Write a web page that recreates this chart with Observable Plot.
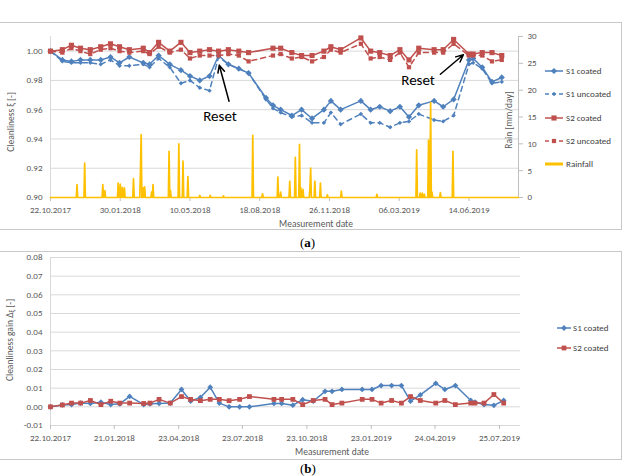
<!DOCTYPE html>
<html><head><meta charset="utf-8">
<script src="https://cdn.jsdelivr.net/npm/d3@7"></script>
<script src="https://cdn.jsdelivr.net/npm/@observablehq/plot@0.6"></script>
<style>
body{margin:0;background:#fff;width:627px;height:476px;position:relative;overflow:hidden;font-family:Lato,sans-serif}
.box{position:absolute;left:-1px;width:623px;border:1px solid #c8c8c8;box-sizing:border-box}
#boxA{top:22px;height:208px}
#boxB{top:251px;height:209px}
.cap{position:absolute;left:300px;font-family:"Liberation Serif",serif;font-size:13px;line-height:15px;color:#000}
#chartA{position:absolute;left:0;top:22px}
#chartB{position:absolute;left:0;top:251px}
</style></head><body>
<div id="boxA" class="box"></div>
<div id="chartA"></div>
<div class="cap" style="top:235px">(<b>a</b>)</div>
<div id="boxB" class="box"></div>
<div id="chartB"></div>
<div class="cap" style="top:461px">(<b>b</b>)</div>
<script>
// ---------- data ----------
const dates = ["22.10.2017","08.11.2017","21.11.2017","04.12.2017","18.12.2017","02.01.2018","16.01.2018","29.01.2018","12.02.2018","04.03.2018","13.03.2018","26.03.2018","11.04.2018","27.04.2018","10.05.2018","24.05.2018","07.06.2018","20.06.2018","04.07.2018","19.07.2018","02.08.2018","27.08.2018","06.09.2018","17.09.2018","03.10.2018","17.10.2018","01.11.2018","18.11.2018","28.11.2018","12.12.2018","10.01.2019","24.01.2019","06.02.2019","21.02.2019","07.03.2019","20.03.2019","03.04.2019","25.04.2019","08.05.2019","23.05.2019","14.06.2019","20.06.2019","03.07.2019","17.07.2019","31.07.2019"];
const s1Coated = [1.000,0.994,0.993,0.994,0.994,0.994,0.996,0.992,0.996,0.992,0.991,0.997,0.991,0.987,0.983,0.980,0.983,0.997,0.991,0.988,0.985,0.968,0.963,0.960,0.956,0.960,0.954,0.960,0.966,0.960,0.966,0.960,0.962,0.959,0.962,0.955,0.963,0.966,0.962,0.967,0.994,0.995,0.989,0.979,0.982];
const s1Uncoated = [1.000,0.993,0.992,0.992,0.992,0.991,0.994,0.990,0.990,0.991,0.989,0.995,0.989,0.978,0.980,0.975,0.973,0.996,0.991,0.988,0.985,0.967,0.961,0.958,0.955,0.956,0.951,0.951,0.958,0.950,0.957,0.951,0.951,0.948,0.951,0.952,0.957,0.953,0.952,0.956,0.991,0.992,0.988,0.978,0.979];
const s2Coated = [1.000,1.001,1.004,1.002,1.001,1.003,1.005,1.003,1.001,1.002,0.999,1.006,1.000,1.006,0.999,1.000,1.001,1.000,1.001,1.000,0.999,null,1.002,1.002,0.999,0.997,0.997,1.000,1.003,1.001,1.009,1.000,0.999,0.997,1.001,0.994,1.002,1.001,1.001,1.008,0.998,0.998,0.999,0.999,0.997];
const s2Uncoated = [1.000,0.999,1.002,1.000,0.998,1.001,1.002,1.000,0.999,1.000,0.998,1.003,0.999,1.001,0.995,0.997,0.997,0.997,0.998,0.997,0.993,null,0.997,0.998,0.995,0.996,0.993,0.996,1.001,0.999,1.005,0.995,0.996,0.994,0.999,0.989,0.999,0.999,0.999,1.005,0.997,0.997,0.997,0.993,0.994];
const rainDates = ["29.11.2017","10.12.2017","05.01.2018","08.01.2018","27.01.2018","30.01.2018","02.02.2018","05.02.2018","18.02.2018","28.02.2018","01.03.2018","04.03.2018","06.03.2018","16.03.2018","18.03.2018","10.04.2018","12.04.2018","24.04.2018","30.04.2018","07.05.2018","24.05.2018","08.06.2018","27.06.2018","08.08.2018","22.08.2018","13.09.2018","17.09.2018","30.09.2018","08.10.2018","14.10.2018","16.10.2018","19.10.2018","29.10.2018","30.10.2018","05.11.2018","13.11.2018","23.11.2018","13.12.2018","02.02.2019","31.03.2019","05.04.2019","08.04.2019","11.04.2019","17.04.2019","20.04.2019","22.04.2019","04.05.2019","22.05.2019"];
const rainMm = [2.4,6.4,2.4,1.3,2.7,2.5,1.9,1.8,3.5,5.2,11.7,1.8,2.0,1.0,2.4,8.6,1.3,10.0,6.8,3.9,0.4,0.4,0.3,11.6,0.7,3.8,1.0,3.0,7.5,9.9,1.8,1.5,1.8,5.5,3.0,2.7,0.5,1.2,0.6,8.9,0.8,0.8,0.6,10.7,17.7,1.0,0.9,8.6];
const s1Gain = [0,0.0010,0.0012,0.0020,0.0018,0.0025,0.0012,0.0016,0.0056,0.0012,0.0016,0.0018,0.0020,0.0093,0.0030,0.0050,0.0105,0.0020,0.0000,0.0000,0.0000,null,0.0018,0.0018,0.0009,0.0038,0.0030,0.0083,0.0083,0.0093,0.0093,0.0093,0.0114,0.0114,0.0114,0.0030,0.0064,0.0126,0.0093,0.0114,0.0034,0.0025,0.0012,0.0008,0.0034];
const s2Gain = [0,0.0010,0.0020,0.0020,0.0034,0.0012,0.0030,0.0020,0.0020,0.0018,0.0020,0.0040,0.0020,0.0055,0.0040,0.0033,0.0040,0.0040,0.0033,0.0040,0.0055,null,0.0040,0.0040,0.0040,0.0012,0.0034,0.0040,0.0012,0.0020,0.0040,0.0040,0.0020,0.0034,0.0020,0.0055,0.0034,0.0020,0.0034,0.0012,0.0020,0.0020,0.0020,0.0066,0.0020];

const xDomainLabels = ["22.10.2017","24.08.2019"];
const topTickLabels = ["22.10.2017","30.01.2018","10.05.2018","18.08.2018","26.11.2018","06.03.2019","14.06.2019"];
const bottomTickLabels = ["22.10.2017","21.01.2018","23.04.2018","23.07.2018","23.10.2018","23.01.2019","24.04.2019","25.07.2019"];
const cleanTicks = [0.90,0.92,0.94,0.96,0.98,1.00];
const rainTicks = [0,5,10,15,20,25,30];
const gainTicks = [-0.01,0.00,0.01,0.02,0.03,0.04,0.05,0.06,0.07,0.08];
const resetNotes = [
  {tx:"22.06.2018", ty:0.9555, x1:"05.07.2018", y1:0.9658, x2:"21.06.2018", y2:0.9904},
  {tx:"02.04.2019", ty:0.9803, x1:"04.05.2019", y1:0.9842, x2:"06.06.2019", y2:0.9975}
];

// ---------- helpers ----------
const parse = d3.utcParse("%d.%m.%Y");
const fmt = d3.utcFormat("%d.%m.%Y");
const FONT = "Calibri, Carlito, Lato, sans-serif";
const BLUE = "#4f81bd", RED = "#c0504d", YELLOW = "#ffc000", GRID = "#d9d9d9", AXIS = "#bfbfbf", TXT = "#595959";
const toClean = r => 0.90 + r * 0.11 / 30;
const fromClean = v => (v - 0.90) * 30 / 0.11;
const xDom = xDomainLabels.map(parse);

function table(vals) {
  return dates.map((d, i) => ({date: parse(d), v: vals[i]})).filter(d => d.v != null);
}

// rainfall as a daily line: each rain day plus its zero neighbours
const DAY = 864e5;
const rainMap = new Map(rainDates.map((d, i) => [+parse(d), rainMm[i]]));
const keys = new Set([+xDom[0], +xDom[1]]);
for (const t of rainMap.keys()) { keys.add(t - DAY); keys.add(t); keys.add(t + DAY); }
const rainSeries = [...keys].sort((a, b) => a - b).map(t => ({date: new Date(t), v: toClean(rainMap.get(t) ?? 0)}));

const notes = resetNotes.map(n => ({tx: parse(n.tx), ty: n.ty, x1: parse(n.x1), y1: n.y1, x2: parse(n.x2), y2: n.y2}));

// ---------- panel (a) ----------
const plotA = Plot.plot({
  width: 622, height: 207,
  marginLeft: 50, marginRight: 104, marginTop: 14, marginBottom: 32,
  x: {type: "utc", domain: xDom},
  y: {domain: [0.90, toClean(30)]},
  style: {fontFamily: FONT, fontSize: "9px", color: TXT, background: "transparent", overflow: "visible"},
  marks: [
    Plot.gridY(cleanTicks, {stroke: GRID, strokeOpacity: 1}),
    Plot.ruleX([xDom[0]], {stroke: GRID}),
    Plot.ruleX([xDom[1]], {stroke: AXIS}),
    Plot.axisY({ticks: cleanTicks, tickSize: 0, tickPadding: 8, tickFormat: d => d.toFixed(2), label: null}),
    Plot.axisY({anchor: "right", ticks: rainTicks.map(toClean), tickSize: 4, tickPadding: 5, stroke: AXIS,
      tickFormat: d => String(Math.round(fromClean(d))), label: null}),
    Plot.axisX({ticks: topTickLabels.map(parse), tickSize: 4, tickPadding: 5, stroke: AXIS, tickFormat: fmt, label: null}),
    Plot.line(table(s1Coated), {x: "date", y: "v", stroke: BLUE, strokeWidth: 1.5}),
    Plot.dot(table(s1Coated), {x: "date", y: "v", symbol: "diamond2", r: 2.8, fill: BLUE}),
    Plot.line(table(s1Uncoated), {x: "date", y: "v", stroke: BLUE, strokeWidth: 1.5, strokeDasharray: "5,4"}),
    Plot.dot(table(s1Uncoated), {x: "date", y: "v", symbol: "diamond2", r: 2, fill: BLUE}),
    Plot.line(table(s2Coated), {x: "date", y: "v", stroke: RED, strokeWidth: 1.5}),
    Plot.dot(table(s2Coated), {x: "date", y: "v", symbol: "square", r: 2.9, fill: RED}),
    Plot.line(table(s2Uncoated), {x: "date", y: "v", stroke: RED, strokeWidth: 1.5, strokeDasharray: "5,4"}),
    Plot.dot(table(s2Uncoated), {x: "date", y: "v", symbol: "square", r: 2.4, fill: RED}),
    Plot.line(rainSeries, {x: "date", y: "v", stroke: YELLOW, strokeWidth: 1.7}),
    Plot.arrow(notes, {x1: "x1", y1: "y1", x2: "x2", y2: "y2", stroke: "#000", strokeWidth: 1.5, headLength: 8, headAngle: 50}),
    Plot.text(notes, {x: "tx", y: "ty", text: () => "Reset", fontSize: 15, fill: "#000", fontFamily: FONT})
  ]
});
document.getElementById("chartA").appendChild(plotA);

// ---------- panel (b) ----------
const plotB = Plot.plot({
  width: 622, height: 208,
  marginLeft: 50, marginRight: 102, marginTop: 6, marginBottom: 34,
  x: {type: "utc", domain: xDom},
  y: {domain: [-0.01, 0.08]},
  style: {fontFamily: FONT, fontSize: "9px", color: TXT, background: "transparent", overflow: "visible"},
  marks: [
    Plot.gridY(gainTicks, {stroke: GRID, strokeOpacity: 1}),
    Plot.ruleX([xDom[0]], {stroke: GRID}),
    Plot.axisY({ticks: gainTicks, tickSize: 0, tickPadding: 8, tickFormat: d => d.toFixed(2), label: null}),
    Plot.axisX({ticks: bottomTickLabels.map(parse), tickSize: 4, tickPadding: 5, stroke: AXIS, tickFormat: fmt, label: null}),
    Plot.line(table(s1Gain), {x: "date", y: "v", stroke: BLUE, strokeWidth: 1.5}),
    Plot.dot(table(s1Gain), {x: "date", y: "v", symbol: "diamond2", r: 2.6, fill: BLUE}),
    Plot.line(table(s2Gain), {x: "date", y: "v", stroke: RED, strokeWidth: 1.5}),
    Plot.dot(table(s2Gain), {x: "date", y: "v", symbol: "square", r: 2.7, fill: RED})
  ]
});
document.getElementById("chartB").appendChild(plotB);

// ---------- titles and legends ----------
function addText(svg, x, y, str, opts = {}) {
  const t = d3.select(svg).append("text")
    .attr("font-family", FONT).attr("font-size", opts.size || 9.5).attr("fill", opts.fill || TXT)
    .attr("text-anchor", opts.anchor || "middle").attr("dy", "0.35em")
    .attr("transform", `translate(${x},${y})` + (opts.rotate ? ` rotate(${opts.rotate})` : ""));
  t.text(str);
  return t;
}
addText(plotA, 11, 100, "Cleanliness ξ [-]", {rotate: -90});
addText(plotA, 509, 98, "Rain [mm/day]", {rotate: -90});
addText(plotA, 316, 202, "Measurement date");
const gt = addText(plotB, 10, 89, "Cleanliness gain Δ", {rotate: -90});
gt.append("tspan").attr("font-size", 7).attr("dy", "0.25em").text("ξ");
gt.append("tspan").attr("dy", "-0.25em").text(" [-]");
addText(plotB, 332, 201, "Measurement date");

function legend(svg, items, x0, x1, tx) {
  const g = d3.select(svg).append("g").attr("font-family", FONT).attr("font-size", 9).attr("fill", "#404040")
    .attr("text-anchor", "start");
  for (const it of items) {
    g.append("line").attr("x1", x0).attr("x2", x1).attr("y1", it.y).attr("y2", it.y)
      .attr("stroke", it.color).attr("stroke-width", it.width || 1.5).attr("stroke-dasharray", it.dash || null);
    if (it.symbol) g.append("path").attr("d", d3.symbol(it.symbol, Math.PI * it.r * it.r)())
      .attr("transform", `translate(${(x0 + x1) / 2},${it.y})`).attr("fill", it.color);
    g.append("text").attr("x", tx).attr("y", it.y).attr("dy", "0.35em").attr("text-anchor", "start").text(it.label);
  }
}
legend(plotA, [
  {y: 49, color: BLUE, symbol: d3.symbolDiamond2, r: 2.8, label: "S1 coated"},
  {y: 72, color: BLUE, symbol: d3.symbolDiamond2, r: 2, dash: "4,3", label: "S1 uncoated"},
  {y: 96, color: RED, symbol: d3.symbolSquare, r: 2.9, label: "S2 coated"},
  {y: 119, color: RED, symbol: d3.symbolSquare, r: 2.4, dash: "4,3", label: "S2 uncoated"},
  {y: 142, color: YELLOW, width: 3, label: "Rainfall"}
], 545, 563, 566);
legend(plotB, [
  {y: 77, color: BLUE, symbol: d3.symbolDiamond2, r: 2.6, label: "S1 coated"},
  {y: 97, color: RED, symbol: d3.symbolSquare, r: 2.7, label: "S2 coated"}
], 557, 571, 573);
</script>
</body></html>
